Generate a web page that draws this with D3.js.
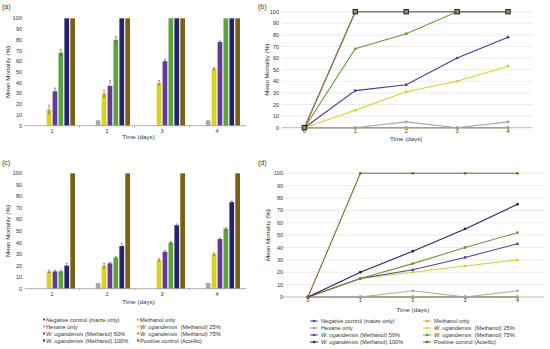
<!DOCTYPE html>
<html>
<head>
<meta charset="utf-8">
<script src="https://cdn.jsdelivr.net/npm/d3@7"></script>
<style>
  body { margin: 0; background: #fff; }
  text { font-family: "Liberation Sans", Arial, sans-serif; fill: #333; }
</style>
</head>
<body>
<script>
// ---- data ----
const days = ["1", "2", "3", "4"]
const lineDays = ["0", "1", "2", "3", "4"]
const yTicks = [0, 10, 20, 30, 40, 50, 60, 70, 80, 90, 100]

const seriesNames = [
  ["", "Negative control (maize only)"],
  ["", "Methanol only"],
  ["", "Hexane only"],
  ["W. ugandensis", "  (Methanol) 25%"],
  ["W. ugandensis", " (Methanol) 50%"],
  ["W. ugandensis", "  (Methanol) 75%"],
  ["W. ugandensis", " (Methanol) 100%"],
  ["", "Positive control (Actellic)"]
]
const seriesColors = ["#3b4cc0", "#c8b820", "#b3a1ad", "#d9d21e", "#64399a", "#5ca33c", "#25236e", "#7a6212"]

// (a) bars, per series, days 1-4
const barsA = [
  [0, 0, 0, 0],
  [0, 0, 0, 0],
  [0, 5, 0, 5],
  [15, 30, 40, 53],
  [32, 37, 60, 78],
  [68, 80, 100, 100],
  [100, 100, 100, 100],
  [100, 100, 100, 100]
]
const errA = [
  [0, 0, 0, 0],
  [0, 0, 0, 0],
  [0, 0, 0, 0],
  [4, 3, 2, 1],
  [3, 5, 2, 1],
  [3, 3, 0, 0],
  [0, 0, 0, 0],
  [0, 0, 0, 0]
]
// (b) lines, days 0-4
const linesB = [
  [0, 0, 0, 0, 0],
  [0, 0, 0, 0, 0],
  [0, 0, 5, 0, 5],
  [0, 15, 31, 40, 53],
  [0, 32, 37, 60, 78],
  [0, 68, 81, 100, 100],
  [0, 100, 100, 100, 100],
  [0, 100, 100, 100, 100]
]
// (c) bars
const barsC = [
  [0, 0, 0, 0],
  [0, 0, 0, 0],
  [0, 5, 0, 5],
  [15, 20, 25, 30],
  [15, 22, 32, 43],
  [15, 27, 40, 52],
  [20, 37, 55, 75],
  [100, 100, 100, 100]
]
const errC = [
  [0, 0, 0, 0],
  [0, 0, 0, 0],
  [0, 0, 0, 0],
  [1, 2, 1, 1],
  [1, 1, 1, 1],
  [1, 1, 1, 1],
  [2, 2, 1, 1],
  [0, 0, 0, 0]
]
// (d) lines
const linesD = [
  [0, 0, 0, 0, 0],
  [0, 0, 0, 0, 0],
  [0, 0, 5, 0, 5],
  [0, 15, 20, 25, 30],
  [0, 15, 22, 32, 43],
  [0, 15, 27, 40, 52],
  [0, 20, 37, 55, 75],
  [0, 100, 100, 100, 100]
]

const svg = d3.select("body").append("svg")
  .attr("width", 550)
  .attr("height", 349)

const tickSize = "5.5px", titleSize = "6.2px"

function yTitle(x, yMid) {
  svg.append("text")
    .attr("transform", `translate(${x},${yMid}) rotate(-90)`)
    .attr("text-anchor", "middle")
    .style("font-size", titleSize)
    .text("Mean Mortality (%)")
}

function panelLabel(txt, x, y) {
  svg.append("text").attr("x", x).attr("y", y)
    .style("font-size", "7px").text(txt)
}

function barPanel(vals, errs, o) {
  const g = svg.append("g")
  const x0 = d3.scaleBand().domain(days).range(o.xr).paddingInner(0.12).paddingOuter(0.06)
  const x1 = d3.scaleBand().domain(d3.range(vals.length)).range([0, x0.bandwidth()]).padding(0.2)
  const y = d3.scaleLinear().domain([0, 100]).range(o.yr)

  // y tick labels
  g.selectAll(".yl").data(yTicks).join("text")
    .attr("x", o.labelX).attr("y", d => y(d) + 2)
    .attr("text-anchor", "end").style("font-size", tickSize)
    .text(d => d)

  const flat = []
  vals.forEach((row, s) => row.forEach((v, i) => flat.push({ s, day: days[i], v, e: errs[s][i] })))

  g.selectAll("rect").data(flat.filter(d => d.v > 0)).join("rect")
    .attr("x", d => x0(d.day) + x1(d.s))
    .attr("y", d => y(d.v))
    .attr("width", x1.bandwidth())
    .attr("height", d => y(0) - y(d.v))
    .attr("fill", d => seriesColors[d.s])

  const eb = flat.filter(d => d.e > 0)
  g.selectAll(".eb").data(eb).join("path")
    .attr("fill", "none").attr("stroke", "#555").attr("stroke-width", 0.6)
    .attr("d", d => {
      const cx = x0(d.day) + x1(d.s) + x1.bandwidth() / 2
      const t = y(d.v + d.e), b = y(d.v - d.e)
      return `M${cx},${t}V${b}M${cx - 1},${t}H${cx + 1}M${cx - 1},${b}H${cx + 1}`
    })

  // x axis line and category separators
  g.append("line")
    .attr("x1", o.xr[0]).attr("x2", o.xr[1] + 1.5)
    .attr("y1", y(0)).attr("y2", y(0))
    .attr("stroke", "#999").attr("stroke-width", 0.8)
  const seps = days.slice(1).map(d => x0(d) - x0.step() * 0.06)
  g.selectAll(".sep").data(seps).join("line")
    .attr("x1", d => d).attr("x2", d => d)
    .attr("y1", y(0)).attr("y2", y(0) + 2)
    .attr("stroke", "#999").attr("stroke-width", 0.6)

  g.selectAll(".xl").data(days).join("text")
    .attr("x", d => x0(d) + x0.bandwidth() / 2).attr("y", o.tickY)
    .attr("text-anchor", "middle").style("font-size", tickSize)
    .text(d => d)

  g.append("text")
    .attr("x", (o.xr[0] + o.xr[1]) / 2 + 4).attr("y", o.titleY)
    .attr("text-anchor", "middle").style("font-size", titleSize)
    .text("Time (days)")

  yTitle(o.yTitleX, (o.yr[0] + o.yr[1]) / 2)
}

function linePanel(vals, o) {
  const g = svg.append("g")
  const x = d3.scalePoint().domain(lineDays).range(o.xr)
  const y = d3.scaleLinear().domain([0, 100]).range(o.yr)

  g.selectAll(".grid").data(yTicks.slice(1)).join("line")
    .attr("x1", o.gridX[0]).attr("x2", o.gridX[1])
    .attr("y1", d => y(d)).attr("y2", d => y(d))
    .attr("stroke", "#e3e3e3").attr("stroke-width", 0.7)
  g.append("line")
    .attr("x1", o.gridX[0]).attr("x2", o.gridX[1])
    .attr("y1", y(0)).attr("y2", y(0))
    .attr("stroke", "#a8a8a8").attr("stroke-width", 0.8)

  g.selectAll(".yl").data(yTicks).join("text")
    .attr("x", o.labelX).attr("y", d => y(d) + 2)
    .attr("text-anchor", "end").style("font-size", tickSize)
    .text(d => d)

  const line = d3.line().x((d, i) => x(lineDays[i])).y(d => y(d))
  const lineCol = o.lineColors || seriesColors
  vals.forEach((row, s) => {
    g.append("path").datum(row)
      .attr("fill", "none")
      .attr("stroke", lineCol[s])
      .attr("stroke-width", 1.1)
      .attr("d", line)
  })
  vals.forEach((row, s) => {
    const pts = row.map((v, i) => ({ v, i }))
    if (o.squareSeries === s) {
      g.selectAll(".sq" + s).data(pts).join("rect")
        .attr("x", d => x(lineDays[d.i]) - 2.2).attr("y", d => y(d.v) - 2.2)
        .attr("width", 4.4).attr("height", 4.4)
        .attr("fill", "#8a8a8a").attr("stroke", "#222").attr("stroke-width", 1)
    } else {
      g.selectAll(".pt" + s).data(pts).join("circle")
        .attr("cx", d => x(lineDays[d.i])).attr("cy", d => y(d.v))
        .attr("r", 1.4).attr("fill", lineCol[s])
    }
  })

  g.selectAll(".xl").data(lineDays).join("text")
    .attr("x", d => x(d)).attr("y", o.tickY)
    .attr("text-anchor", "middle").style("font-size", tickSize)
    .text(d => d)

  g.append("text")
    .attr("x", x("2")).attr("y", o.titleY)
    .attr("text-anchor", "middle").style("font-size", titleSize)
    .text("Time (days)")

  yTitle(o.yTitleX, (o.yr[0] + o.yr[1]) / 2)
}

function legend(o) {
  const g = svg.append("g")
  seriesNames.forEach((nm, i) => {
    const col = i % 2, row = Math.floor(i / 2)
    const lx = o.cols[col], ly = o.y0 + row * 7
    if (o.type === "bar") {
      g.append("rect").attr("x", lx - 1).attr("y", ly - 1).attr("width", 2).attr("height", 2)
        .attr("fill", seriesColors[i])
    } else {
      g.append("line").attr("x1", lx - 9).attr("x2", lx - 1).attr("y1", ly).attr("y2", ly)
        .attr("stroke", seriesColors[i]).attr("stroke-width", 1)
      g.append("circle").attr("cx", lx - 5).attr("cy", ly).attr("r", 1.3)
        .attr("fill", seriesColors[i])
    }
    const t = g.append("text").attr("x", lx + 2).attr("y", ly + 2)
      .style("font-size", "5.7px").attr("xml:space", "preserve")
    if (nm[0]) t.append("tspan").style("font-style", "italic").text(nm[0])
    t.append("tspan").text(nm[1])
  })
}

// panel (a)
panelLabel("(a)", 2, 9)
barPanel(barsA, errA, { xr: [24.5, 244.5], yr: [125.7, 18.3], labelX: 22, tickY: 133.4, titleY: 139, yTitleX: 10 })

// panel (b)
panelLabel("(b)", 258, 9)
linePanel(linesB, {
  xr: [304.4, 508], yr: [127.7, 11.7], gridX: [282, 532], labelX: 279,
  tickY: 133.4, titleY: 141, yTitleX: 268.5, squareSeries: 6,
  lineColors: ["#3b4cc0", "#c8b820", "#a9a2ad", "#d6d41e", "#4b3a9c", "#5f9c3a", "#25236e", "#a08a3c"]
})

// panel (c)
panelLabel("(c)", 2, 165)
barPanel(barsC, errC, { xr: [24.5, 244.5], yr: [288.7, 173.3], labelX: 22, tickY: 295.6, titleY: 303.5, yTitleX: 10 })

// panel (d)
panelLabel("(d)", 258, 165)
linePanel(linesD, {
  xr: [308, 517.5], yr: [297, 173.3], gridX: [282, 544], labelX: 283,
  tickY: 301.8, titleY: 312.3, yTitleX: 270,
  lineColors: ["#3b4cc0", "#c8b820", "#b0a3b3", "#d6d41e", "#54409e", "#6a9a34", "#25236e", "#86661a"]
})

legend({ type: "bar", cols: [44, 138], y0: 319.5 })
legend({ type: "line", cols: [319, 432], y0: 321 })
</script>
</body>
</html>
